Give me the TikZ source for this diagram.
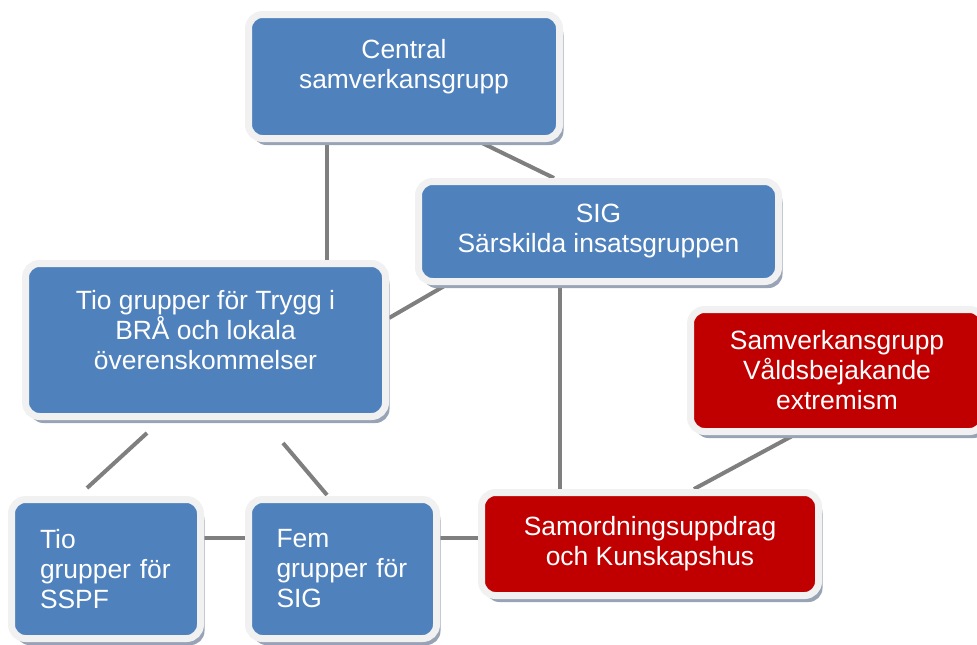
\documentclass[tikz,border=0pt]{standalone}
\usepackage{fontspec}
\setmainfont{Liberation Sans}
\usetikzlibrary{shadows,backgrounds}
\definecolor{boxblue}{HTML}{4F81BD}
\definecolor{boxred}{HTML}{C00000}
\definecolor{rimgray}{HTML}{F1F1F1}
\definecolor{shadegray}{HTML}{98A4B6}
\definecolor{linkgray}{HTML}{7F7F7F}
\begin{document}
\begin{tikzpicture}[x=0.5pt, y=-0.5pt,
		box/.style={rectangle, rounded corners=7pt, draw=rimgray, line width=3.5pt,
			text=white, align=center, inner sep=2pt,
			font=\fontsize{13.2}{15}\selectfont,
			drop shadow={shadow xshift=2pt, shadow yshift=-3.25pt, fill=shadegray, opacity=1}},
		bluebox/.style={box, fill=boxblue},
		redbox/.style={box, fill=boxred},
		link/.style={draw=linkgray, line width=2pt}]
	\useasboundingbox (0,0) rectangle (977,644);
	% boxes
	\node[bluebox, minimum width=155.5pt, minimum height=62pt, text depth=13pt] (central) at (404,76.5) {Central\\samverkansgrupp};
	\node[bluebox, minimum width=180pt, minimum height=50pt] (sig) at (598.5,231.5) {SIG\\Särskilda insatsgruppen};
	\node[bluebox, minimum width=180pt, minimum height=76.5pt, text depth=10pt] (trygg) at (205.5,340) {Tio grupper för Trygg i\\BRÅ och lokala\\överenskommelser};
	\node[redbox, minimum width=146.5pt, minimum height=61pt] (vald) at (837,370.5) {Samverkansgrupp\\Våldsbejakande\\extremism};
	\node[bluebox, minimum width=94.5pt, minimum height=69.5pt, text width=66pt, align=left] (sspf) at (106,569) {Tio\\grupper för\\SSPF};
	\node[bluebox, minimum width=94pt, minimum height=69.5pt, text width=66pt, align=left] (fem) at (342.5,569) {Fem\\grupper för\\SIG};
	\node[redbox, minimum width=168.5pt, minimum height=51.5pt] (samord) at (650,544) {Samordningsuppdrag\\och Kunskapshus};
	% loose line ends
	\coordinate (ta) at (147,433);
	\coordinate (tb) at (87,488);
	\coordinate (fa) at (283,443);
	\coordinate (fb) at (327,495);
	% links
	\begin{scope}[on background layer]
		\draw[link] ([xshift=-38.5pt]central.south) -- ([xshift=-38.5pt]central.south |- trygg.north);
		\draw[link] ([xshift=38pt]central.south) -- ([xshift=-22.25pt]sig.north);
		\draw[link] ([xshift=-76.25pt]sig.south) -- ([yshift=11pt]trygg.east);
		\draw[link] ([xshift=-19.25pt]sig.south) -- ([xshift=-19.25pt]sig.south |- samord.north);
		\draw[link] ([xshift=-21.5pt]vald.south) -- ([xshift=22pt]samord.north);
		\draw[link] ([yshift=15.5pt]sspf.east) -- ([yshift=15.5pt]sspf.east -| fem.west);
		\draw[link] ([yshift=15.5pt]fem.east) -- ([yshift=15.5pt]fem.east -| samord.west);
		\draw[link] (ta) -- (tb);
		\draw[link] (fa) -- (fb);
	\end{scope}
\end{tikzpicture}
\end{document}
